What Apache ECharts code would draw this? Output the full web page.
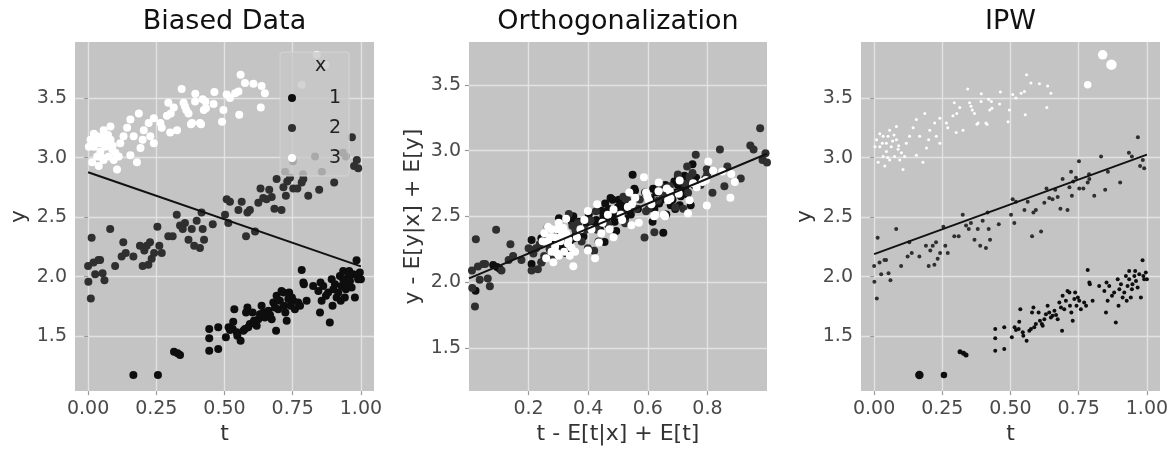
<!DOCTYPE html>
<html>
<head>
<meta charset="utf-8">
<script src="https://cdn.jsdelivr.net/npm/echarts@6/dist/echarts.min.js"></script>
<style>
  html, body { margin: 0; padding: 0; background: #fff; }
  #main { width: 1176px; height: 450px; }
</style>
</head>
<body>
<div id="main"></div>
<script>
// raw data, one [t, y] pair per point, grouped by x
var group1 = [[0.166,1.176],[0.256,1.176],[0.315,1.371],[0.328,1.357],[0.337,1.343],[0.444,1.561],[0.444,1.483],[0.444,1.379],[0.477,1.575],[0.477,1.393],
  [0.505,1.491],[0.515,1.575],[0.520,1.552],[0.530,1.561],[0.532,1.622],[0.536,1.728],[0.545,1.533],[0.547,1.505],[0.559,1.463],[0.569,1.547],
  [0.575,1.561],[0.579,1.700],[0.584,1.742],[0.587,1.575],[0.593,1.603],[0.603,1.700],[0.608,1.630],[0.615,1.603],[0.618,1.589],[0.624,1.644],
  [0.630,1.686],[0.636,1.756],[0.642,1.700],[0.648,1.658],[0.654,1.672],[0.661,1.714],[0.667,1.678],[0.673,1.644],[0.679,1.784],[0.685,1.742],
  [0.689,1.547],[0.691,1.840],[0.697,1.728],[0.703,1.798],[0.709,1.881],[0.716,1.867],[0.718,1.756],[0.723,1.700],[0.728,1.630],[0.734,1.812],
  [0.737,1.867],[0.742,1.756],[0.747,1.826],[0.752,1.798],[0.758,1.728],[0.770,1.784],[0.777,1.756],[0.783,2.057],[0.789,1.951],[0.791,1.937],
  [0.801,1.798],[0.825,1.923],[0.844,1.881],[0.850,1.700],[0.852,1.951],[0.856,1.798],[0.862,1.923],[0.872,1.840],[0.880,1.867],[0.886,1.616],
  [0.893,1.979],[0.896,1.756],[0.899,1.895],[0.905,1.937],[0.911,1.826],[0.917,1.867],[0.923,2.007],[0.926,1.798],[0.929,1.923],[0.935,1.979],
  [0.935,2.049],[0.941,1.826],[0.945,1.895],[0.947,1.937],[0.954,2.007],[0.957,2.049],[0.960,1.965],[0.966,1.909],[0.972,2.021],[0.978,1.826],
  [0.984,2.138],[0.987,2.007],[0.990,1.979],[0.996,2.035],[1.000,1.979]];

var group2 = [[0.000,2.09],[0.001,1.957],[0.010,1.817],[0.013,2.328],[0.020,2.12],[0.026,2.02],[0.038,2.14],[0.044,2.14],[0.053,2.03],[0.060,1.97],
  [0.081,2.40],[0.099,2.09],[0.123,2.17],[0.129,2.29],[0.138,2.20],[0.166,2.17],[0.190,2.26],[0.200,2.09],[0.206,2.22],[0.215,2.26],
  [0.221,2.10],[0.227,2.29],[0.233,2.15],[0.242,2.20],[0.254,2.42],[0.261,2.26],[0.270,2.20],[0.294,2.34],[0.310,2.34],[0.325,2.52],
  [0.337,2.43],[0.347,2.40],[0.355,2.45],[0.368,2.31],[0.380,2.40],[0.389,2.26],[0.398,2.47],[0.410,2.24],[0.416,2.54],[0.420,2.40],
  [0.425,2.31],[0.457,2.44],[0.502,2.52],[0.508,2.65],[0.514,2.45],[0.520,2.63],[0.551,2.56],[0.563,2.63],[0.579,2.34],[0.584,2.54],
  [0.593,2.56],[0.612,2.38],[0.624,2.62],[0.632,2.74],[0.642,2.66],[0.654,2.65],[0.664,2.73],[0.673,2.67],[0.683,2.57],[0.691,2.82],
  [0.709,2.56],[0.716,2.75],[0.722,2.88],[0.725,2.68],[0.730,2.80],[0.740,2.83],[0.751,2.97],[0.752,2.74],[0.767,2.74],[0.783,2.79],
  [0.788,2.86],[0.789,2.82],[0.807,2.68],[0.832,3.01],[0.847,2.73],[0.857,2.88],[0.902,2.79],[0.934,3.04],[0.945,3.01],[0.967,3.17],
  [0.975,2.93],[0.985,2.98],[0.990,2.91]];

var group3 = [[0.003,3.09],[0.009,3.15],[0.015,2.96],[0.021,3.09],[0.021,3.20],[0.030,3.12],[0.033,3.01],[0.033,3.18],[0.039,2.93],[0.045,3.12],
  [0.045,3.05],[0.050,3.00],[0.051,3.18],[0.057,3.23],[0.057,2.98],[0.063,3.09],[0.068,3.14],[0.073,3.19],[0.075,3.01],[0.082,3.15],
  [0.082,3.26],[0.088,3.07],[0.090,3.10],[0.094,2.98],[0.100,3.04],[0.106,2.90],[0.112,3.01],[0.118,3.12],[0.130,3.18],[0.143,3.25],
  [0.155,3.32],[0.155,3.02],[0.167,3.18],[0.179,2.96],[0.186,3.37],[0.192,3.08],[0.200,3.15],[0.204,3.23],[0.222,3.29],[0.228,3.18],
  [0.241,3.33],[0.241,3.12],[0.265,3.29],[0.270,3.25],[0.289,3.35],[0.294,3.46],[0.301,3.21],[0.303,3.37],[0.314,3.42],[0.326,3.23],
  [0.343,3.575],[0.350,3.46],[0.355,3.43],[0.360,3.40],[0.368,3.37],[0.377,3.28],[0.381,3.29],[0.392,3.47],[0.393,3.536],[0.410,3.29],
  [0.414,3.28],[0.420,3.49],[0.424,3.40],[0.430,3.47],[0.432,3.415],[0.460,3.45],[0.463,3.55],[0.491,3.30],[0.496,3.40],[0.508,3.53],
  [0.520,3.50],[0.539,3.54],[0.551,3.555],[0.554,3.36],[0.559,3.695],[0.575,3.625],[0.606,3.62],[0.633,3.42],[0.636,3.60],[0.648,3.54],
  [0.783,3.611],[0.838,3.862],[0.870,3.78]];

// orthogonalized values
var ortho1 = [[0.022,1.936],[0.081,2.131],[0.094,2.117],[0.103,2.103],[0.210,2.321],[0.210,2.243],[0.210,2.139],[0.243,2.335],[0.243,2.153],
  [0.271,2.251],[0.281,2.335],[0.286,2.312],[0.296,2.321],[0.298,2.382],[0.302,2.488],[0.311,2.293],[0.313,2.265],[0.325,2.223],[0.335,2.307],
  [0.341,2.321],[0.345,2.460],[0.350,2.502],[0.353,2.335],[0.359,2.363],[0.369,2.460],[0.374,2.390],[0.381,2.363],[0.384,2.349],[0.390,2.404],
  [0.396,2.446],[0.402,2.516],[0.408,2.460],[0.414,2.418],[0.420,2.432],[0.427,2.474],[0.433,2.438],[0.439,2.404],[0.445,2.544],[0.451,2.502],
  [0.455,2.307],[0.457,2.600],[0.463,2.488],[0.469,2.558],[0.475,2.641],[0.482,2.627],[0.484,2.516],[0.489,2.460],[0.494,2.390],[0.500,2.572],
  [0.503,2.627],[0.508,2.516],[0.513,2.586],[0.518,2.558],[0.524,2.488],[0.536,2.544],[0.543,2.516],[0.549,2.817],[0.555,2.711],[0.557,2.697],
  [0.567,2.558],[0.591,2.683],[0.610,2.641],[0.616,2.460],[0.618,2.711],[0.622,2.558],[0.628,2.683],[0.638,2.600],[0.646,2.627],[0.652,2.376],
  [0.659,2.739],[0.662,2.516],[0.665,2.655],[0.671,2.697],[0.677,2.586],[0.683,2.627],[0.689,2.767],[0.692,2.558],[0.695,2.683],[0.701,2.739],
  [0.701,2.809],[0.707,2.586],[0.711,2.655],[0.713,2.697],[0.720,2.767],[0.723,2.809],[0.726,2.725],[0.732,2.669],[0.738,2.781],[0.744,2.586],
  [0.750,2.898],[0.753,2.767],[0.756,2.739],[0.762,2.795],[0.766,2.739]];

var ortho2 = [[0.010,2.09],[0.011,1.957],[0.020,1.817],[0.023,2.328],[0.030,2.12],[0.036,2.02],[0.048,2.14],[0.054,2.14],[0.063,2.03],[0.070,1.97],
  [0.091,2.40],[0.109,2.09],[0.133,2.17],[0.139,2.29],[0.148,2.20],[0.176,2.17],[0.200,2.26],[0.210,2.09],[0.216,2.22],[0.225,2.26],
  [0.231,2.10],[0.237,2.29],[0.243,2.15],[0.252,2.20],[0.264,2.42],[0.271,2.26],[0.280,2.20],[0.304,2.34],[0.320,2.34],[0.335,2.52],
  [0.347,2.43],[0.357,2.40],[0.365,2.45],[0.378,2.31],[0.390,2.40],[0.399,2.26],[0.408,2.47],[0.420,2.24],[0.426,2.54],[0.430,2.40],
  [0.435,2.31],[0.467,2.44],[0.512,2.52],[0.518,2.65],[0.524,2.45],[0.530,2.63],[0.561,2.56],[0.573,2.63],[0.589,2.34],[0.594,2.54],
  [0.603,2.56],[0.622,2.38],[0.634,2.62],[0.642,2.74],[0.652,2.66],[0.664,2.65],[0.674,2.73],[0.683,2.67],[0.693,2.57],[0.701,2.82],
  [0.719,2.56],[0.726,2.75],[0.732,2.88],[0.735,2.68],[0.740,2.80],[0.750,2.83],[0.761,2.97],[0.762,2.74],[0.777,2.74],[0.793,2.79],
  [0.798,2.86],[0.799,2.82],[0.817,2.68],[0.842,3.01],[0.857,2.73],[0.867,2.88],[0.912,2.79],[0.944,3.04],[0.955,3.01],[0.977,3.17],
  [0.985,2.93],[0.995,2.98],[1.000,2.91]];

var ortho3 = [[0.247,2.313],[0.253,2.373],[0.259,2.183],[0.265,2.313],[0.265,2.423],[0.274,2.343],[0.277,2.233],[0.277,2.403],[0.283,2.153],
  [0.289,2.343],[0.289,2.273],[0.294,2.223],[0.295,2.403],[0.301,2.453],[0.301,2.203],[0.307,2.313],[0.312,2.363],[0.317,2.413],[0.319,2.233],
  [0.326,2.373],[0.326,2.483],[0.332,2.293],[0.334,2.323],[0.338,2.203],[0.344,2.263],[0.350,2.123],[0.356,2.233],[0.362,2.343],[0.374,2.403],
  [0.387,2.473],[0.399,2.543],[0.399,2.243],[0.411,2.403],[0.423,2.183],[0.430,2.593],[0.436,2.303],[0.444,2.373],[0.448,2.453],[0.466,2.513],
  [0.472,2.403],[0.485,2.553],[0.485,2.343],[0.509,2.513],[0.514,2.473],[0.533,2.573],[0.538,2.683],[0.545,2.433],[0.547,2.593],[0.558,2.643],
  [0.570,2.453],[0.587,2.798],[0.594,2.683],[0.599,2.653],[0.604,2.623],[0.612,2.593],[0.621,2.503],[0.625,2.513],[0.636,2.693],[0.637,2.759],
  [0.654,2.513],[0.658,2.503],[0.664,2.713],[0.668,2.623],[0.674,2.693],[0.676,2.638],[0.704,2.673],[0.707,2.773],[0.735,2.523],[0.740,2.623],
  [0.752,2.753],[0.764,2.723],[0.783,2.763],[0.795,2.778],[0.798,2.583],[0.803,2.918],[0.819,2.848],[0.850,2.843],[0.877,2.643],[0.880,2.823],
  [0.892,2.763]];

// fitted lines (end points)
var lineBiased = [[0, 2.877], [1, 2.087]];
var lineOrtho = [[0, 2.03], [1, 2.977]];
var lineIPW = [[0, 2.19], [1, 3.025]];

var tTicks = [0, 0.25, 0.5, 0.75, 1];
var orthoTicks = [0.2, 0.4, 0.6, 0.8];
var yTicks = [1.5, 2, 2.5, 3, 3.5];
var groupNames = ['1', '2', '3'];
var panelTitles = ['Biased Data', 'Orthogonalization', 'IPW'];

var FONT = 'DejaVu Sans';
var colors = ['#0e0e0e', '#2f2f2f', '#ffffff'];
var bg = '#c4c4c4';

function xAxisOf(idx, min, max, ticks, digits, name) {
  return {
    type: 'value', gridIndex: idx, min: min, max: max,
    name: name, nameLocation: 'middle', nameGap: 30,
    nameTextStyle: { fontFamily: FONT, fontSize: 22, color: '#333' },
    axisLine: { show: false },
    axisTick: { show: true, length: 4, customValues: ticks, lineStyle: { color: '#9a9a9a', width: 1.2 } },
    axisLabel: { customValues: ticks, margin: 8, fontFamily: FONT, fontSize: 19, color: '#4a4a4a',
      formatter: function (v) { return v.toFixed(digits); } },
    splitLine: { show: true, lineStyle: { color: '#e2e2e2', width: 1.4 } }
  };
}
function yAxisOf(idx, min, max, name) {
  return {
    type: 'value', gridIndex: idx, min: min, max: max,
    name: name, nameLocation: 'middle', nameGap: 45, nameRotate: 90,
    nameTextStyle: { fontFamily: FONT, fontSize: 22, color: '#333' },
    axisLine: { show: false },
    axisTick: { show: true, length: 4, customValues: yTicks, lineStyle: { color: '#9a9a9a', width: 1.2 } },
    axisLabel: { customValues: yTicks, margin: 8, fontFamily: FONT, fontSize: 19, color: '#4a4a4a',
      formatter: function (v) { return v.toFixed(1); } },
    splitLine: { show: true, lineStyle: { color: '#e2e2e2', width: 1.4 } }
  };
}

function scatter(name, idx, data, color, size) {
  return {
    type: 'scatter', name: name, xAxisIndex: idx, yAxisIndex: idx,
    data: data, symbolSize: size, itemStyle: { color: color, opacity: 1 },
    emphasis: { disabled: true }, z: 2
  };
}
function fitLine(idx, data) {
  return {
    type: 'line', xAxisIndex: idx, yAxisIndex: idx, data: data,
    symbol: 'none', lineStyle: { color: '#111', width: 2 }, z: 3, silent: true
  };
}

// IPW marker sizes grow with the inverse propensity weight
function ipwSize1(v) { return v[0] < 0.2 ? 8.5 : v[0] < 0.3 ? 6.5 : v[0] < 0.35 ? 5 : 4; }
function ipwSize3(v) { return v[0] > 0.85 ? 10.5 : v[0] > 0.8 ? 9.5 : v[0] > 0.7 ? 7.5 : 3; }

var grids = [
  { left: 75, top: 42, width: 299, height: 350 },
  { left: 469, top: 42, width: 298, height: 350 },
  { left: 861, top: 42, width: 299, height: 350 }
];

var myChart = echarts.init(document.getElementById('main'));

var option = {
  animation: false,
  backgroundColor: '#fff',
  title: panelTitles.map(function (t, i) {
    return { text: t, left: grids[i].left + grids[i].width / 2, top: 8, textAlign: 'center', padding: 0,
      textStyle: { fontFamily: FONT, fontSize: 27, fontWeight: 'normal', color: '#111' } };
  }),
  grid: grids.map(function (g) {
    return { left: g.left, top: g.top, width: g.width, height: g.height, show: true, backgroundColor: bg, borderWidth: 0 };
  }),
  legend: {
    data: groupNames, orient: 'vertical', left: 280, top: 52,
    padding: [36, 8, 8, 8], itemWidth: 40, itemHeight: 8, itemGap: 10, icon: 'circle',
    backgroundColor: 'rgba(200,200,200,0.8)', borderColor: 'rgba(214,214,214,0.9)', borderWidth: 1, borderRadius: 3,
    formatter: function (n) { return '  ' + n; },
    textStyle: { fontFamily: FONT, fontSize: 19, color: '#222', lineHeight: 20 },
    selectedMode: false
  },
  graphic: [
    { type: 'text', left: 315, top: 57, z: 100,
      style: { text: 'x', font: '19px "DejaVu Sans"', fill: '#222' } }
  ],
  xAxis: [
    xAxisOf(0, -0.048, 1.048, tTicks, 2, 't'),
    xAxisOf(1, 0, 1, orthoTicks, 1, 't - E[t|x] + E[t]'),
    xAxisOf(2, -0.048, 1.048, tTicks, 2, 't')
  ],
  yAxis: [
    yAxisOf(0, 1.04, 3.97, 'y'),
    yAxisOf(1, 1.174, 3.826, 'y - E[y|x] + E[y]'),
    yAxisOf(2, 1.04, 3.97, 'y')
  ],
  series: [
    scatter('1', 0, group1, colors[0], 8),
    scatter('2', 0, group2, colors[1], 8),
    scatter('3', 0, group3, colors[2], 8),
    fitLine(0, lineBiased),
    scatter('o1', 1, ortho1, colors[0], 8),
    scatter('o2', 1, ortho2, colors[1], 8),
    scatter('o3', 1, ortho3, colors[2], 8),
    fitLine(1, lineOrtho),
    scatter('w1', 2, group1, colors[0], ipwSize1),
    scatter('w2', 2, group2, colors[1], 4),
    scatter('w3', 2, group3, colors[2], ipwSize3),
    fitLine(2, lineIPW)
  ]
};

myChart.setOption(option);
</script>
</body>
</html>
